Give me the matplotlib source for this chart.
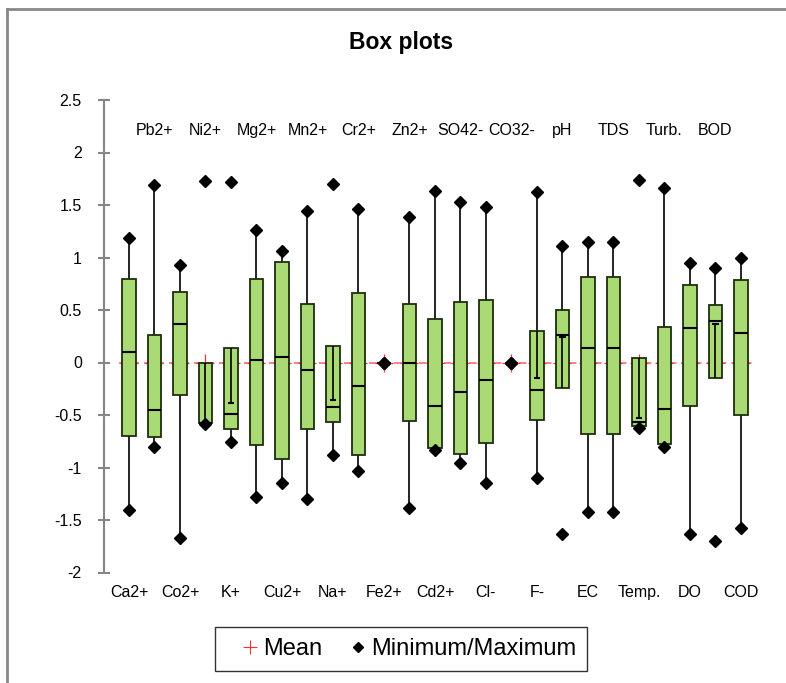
import matplotlib.pyplot as plt
import numpy as np
from matplotlib.lines import Line2D

plt.rcParams['font.family'] = ['Liberation Sans', 'DejaVu Sans']

# Standardized water quality parameters
labels = ['Ca2+', 'Pb2+', 'Co2+', 'Ni2+', 'K+', 'Mg2+', 'Cu2+', 'Mn2+', 'Na+', 'Cr2+',
          'Fe2+', 'Zn2+', 'Cd2+', 'SO42-', 'Cl-', 'CO32-', 'F-', 'pH', 'EC', 'TDS',
          'Temp.', 'Turb.', 'DO', 'BOD', 'COD']

minimum = [-1.40, -0.80, -1.67, -0.59, -0.76, -1.28, -1.15, -1.30, -0.88, -1.03,
           0.00, -1.39, -0.83, -0.96, -1.15, 0.00, -1.10, -1.63, -1.42, -1.42,
           -0.62, -0.80, -1.63, -1.70, -1.58]
q1 = [-0.70, -0.71, -0.31, -0.58, -0.63, -0.79, -0.92, -0.63, -0.57, -0.88,
      0.00, -0.56, -0.81, -0.87, -0.77, 0.00, -0.55, -0.24, -0.68, -0.68,
      -0.60, -0.78, -0.41, -0.15, -0.50]
median = [0.10, -0.45, 0.37, -0.58, -0.49, 0.02, 0.05, -0.07, -0.42, -0.22,
          0.00, 0.00, -0.41, -0.28, -0.17, 0.00, -0.26, 0.26, 0.14, 0.14,
          -0.57, -0.44, 0.33, 0.40, 0.28]
q3 = [0.80, 0.26, 0.67, 0.00, 0.14, 0.80, 0.96, 0.56, 0.16, 0.66,
      0.00, 0.56, 0.41, 0.58, 0.60, 0.00, 0.30, 0.50, 0.81, 0.81,
      0.04, 0.34, 0.74, 0.55, 0.79]
maximum = [1.19, 1.69, 0.93, 1.73, 1.72, 1.26, 1.06, 1.44, 1.70, 1.46,
           0.00, 1.39, 1.63, 1.53, 1.48, 0.00, 1.62, 1.11, 1.15, 1.15,
           1.74, 1.66, 0.95, 0.90, 1.00]
mean = [0.0] * 25

# whisker ends (points beyond 1.5 IQR get no whisker)
upper_whisker = [1.19, 1.69, 0.93, 0.00, 0.14, 1.26, 1.06, 1.44, 0.16, 1.46,
                 0.00, 1.39, 1.63, 1.53, 1.48, 0.00, 1.62, 1.11, 1.15, 1.15,
                 0.04, 1.66, 0.95, 0.90, 1.00]
lower_whisker = [-1.40, -0.80, -1.67, -0.59, -0.76, -1.28, -1.15, -1.30, -0.88, -1.03,
                 0.00, -1.39, -0.83, -0.96, -1.15, 0.00, -1.10, -0.24, -1.42, -1.42,
                 -0.62, -0.80, -1.63, -0.15, -1.58]

# error bars that fall inside the box
inner_idx = [3, 4, 8, 16, 17, 20, 23]
inner_start = [0.00, 0.14, 0.16, 0.30, -0.24, 0.04, -0.15]
inner_end = [-0.58, -0.39, -0.36, -0.15, 0.24, -0.53, 0.37]

x = np.arange(len(labels))
box_w = 0.53
cap_w = 0.12
box_color = '#A9DA74'
edge_color = '#1E2E10'

fig = plt.figure(figsize=(7.86, 6.83), dpi=100)
ax = fig.add_axes([104 / 786, 1 - 572.5 / 683, (766.5 - 104) / 786, (572.5 - 100) / 683])

ax.plot([-0.39, 24.43], [0, 0], color='#FF6E6E', lw=1.2, dashes=(4.5, 3), zorder=1)
ax.plot(x, mean, linestyle='none', marker='+', color='#FF3030', markersize=13,
        markeredgewidth=0.9, zorder=1.5)

ax.vlines(x, q3, upper_whisker, color='black', lw=1.2, zorder=2)
ax.vlines(x, lower_whisker, q1, color='black', lw=1.2, zorder=2)

heights = np.array(q3) - np.array(q1)
ax.bar(x, heights, box_w, bottom=q1, color=box_color, edgecolor=edge_color,
       linewidth=1.3, zorder=3)
ax.hlines(median, x - box_w / 2, x + box_w / 2, color='black', lw=1.5, zorder=4)

xi = x[inner_idx]
ax.vlines(xi, inner_start, inner_end, color='black', lw=1.2, zorder=4)
ax.hlines(inner_end, xi - cap_w, xi + cap_w, color='black', lw=1.5, zorder=4)

ax.plot(x, minimum, linestyle='none', marker='D', color='black', markersize=6.3, zorder=5)
ax.plot(x, maximum, linestyle='none', marker='D', color='black', markersize=6.3, zorder=5)

ax.set_xlim(-0.98, 25)
ax.set_ylim(-2, 2.5)
ax.set_yticks(np.arange(-2, 2.51, 0.5))
ax.set_yticklabels(['-2', '-1.5', '-1', '-0.5', '0', '0.5', '1', '1.5', '2', '2.5'])
ax.tick_params(axis='y', direction='inout', length=8, width=1.5, color='#868686',
               labelsize=11.5, pad=12)

ax.set_xticks(x[::2])
ax.set_xticklabels(labels[::2])
ax.tick_params(axis='x', length=0, labelsize=11.5, pad=9)

for i in x[1::2]:
    ax.text(i, 2.21, labels[i], ha='center', va='center', fontsize=11.5)

for side in ['top', 'right', 'bottom']:
    ax.spines[side].set_visible(False)
ax.spines['left'].set_color('#868686')
ax.spines['left'].set_linewidth(1.5)

fig.text(401 / 786, 1 - 43 / 683, 'Box plots', ha='center', va='center',
         fontsize=16.5, fontweight='bold')

handles = [Line2D([], [], linestyle='none', marker='+', color='#FF3030', markersize=10,
                  markeredgewidth=0.8),
           Line2D([], [], linestyle='none', marker='D', color='black', markersize=5)]
leg = fig.legend(handles, ['Mean', 'Minimum/Maximum'], loc='center', ncol=2,
                 bbox_to_anchor=(401 / 786, 1 - 649 / 683), fontsize=17,
                 frameon=True, fancybox=False, edgecolor='black',
                 handlelength=2.03, handletextpad=-0.45, columnspacing=0.5,
                 borderpad=0.45)
leg.get_frame().set_linewidth(1.0)

# outer chart frame
fig.add_artist(Line2D([7 / 786, 7 / 786], [0, 1 - 9 / 683], color='#888888', lw=2,
                      transform=fig.transFigure))
fig.add_artist(Line2D([7 / 786, 1], [1 - 9 / 683, 1 - 9 / 683], color='#888888', lw=2,
                      transform=fig.transFigure))

fig.savefig('out.png', dpi=100)
